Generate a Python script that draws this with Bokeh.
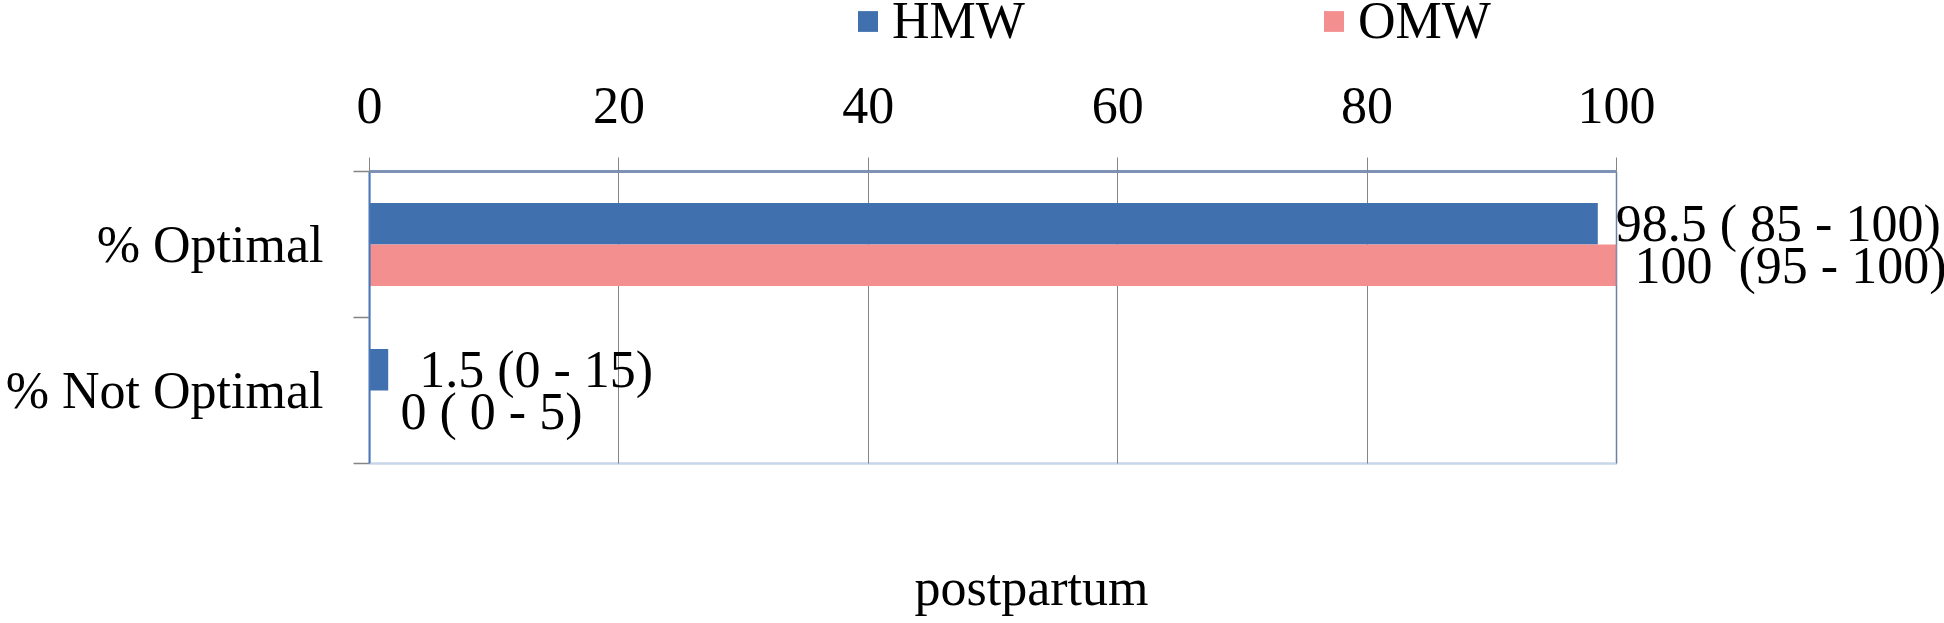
from bokeh.plotting import figure
from bokeh.layouts import column
from bokeh.models import (ColumnDataSource, Range1d, FixedTicker, LabelSet, Legend,
                          LegendItem, Label, BoxAnnotation)
from bokeh.transform import dodge
from bokeh.embed import file_html
from bokeh.resources import INLINE

NB = "\u00a0"

# ---- data ----
categories = ["% Optimal", "% Not Optimal"]
series_names = ["HMW", "OMW"]
hmw_values = [98.5, 1.5]
omw_values = [100, 0]
hmw_labels = ["98.5 ( 85 - 100)", NB + "1.5 (0 - 15)"]
omw_labels = ["100" + NB + " (95 - 100)", NB + "0 ( 0 - 5)"]
x_ticks = [0, 20, 40, 60, 80, 100]
x_title = "postpartum"

# ---- style / layout ----
FONT = "Liberation Serif"
FS = "52px"
BLUE = "#4170ae"
PINK = "#f48f8f"
GRID = "#858585"
BORDER = "#4a76b8"

W, H = 1944, 623
LEG_H = 50                      # strip holding the legend
LEFT, TOP, BOX_RIGHT, BOX_BOTTOM = 369, 171, 1616, 463   # page pixels of the plot box
TITLE_Y = 587                   # page pixel row used to place the axis title
n_cat = len(categories)
top_main = TOP - LEG_H
H_main = H - LEG_H
px_per_cat = (BOX_BOTTOM - TOP) / n_cat
# the main frame runs to the right and bottom page edges; the plot box is drawn inside it
x_end = x_ticks[-1] * (W - LEFT) / (BOX_RIGHT - LEFT)
y_end = n_cat * (H - TOP) / (BOX_BOTTOM - TOP)

ypos = [i + 0.5 for i in range(n_cat)]
src = ColumnDataSource(dict(y=ypos, cat=categories, hmw=hmw_values, omw=omw_values,
                            hmw_lab=hmw_labels, omw_lab=omw_labels))

# ---------------- main chart ----------------
p = figure(width=W, height=H_main, output_backend="svg", toolbar_location=None,
           x_range=Range1d(0, x_end), y_range=Range1d(y_end, 0),
           x_axis_location="above",
           min_border_left=LEFT, min_border_right=0, min_border_top=top_main,
           min_border_bottom=0)

bw = 0.285
off = bw / 2
bar_kw = dict(left=0, height=bw, source=src, line_color=None)
p.hbar(y=dodge("y", -off, range=p.y_range), right="hmw", fill_color=BLUE, **bar_kw)
p.hbar(y=dodge("y", off, range=p.y_range), right="omw", fill_color=PINK, **bar_kw)

lab_kw = dict(text_font=FONT, text_font_size=FS, text_baseline="middle",
              text_align="left", x_offset=18, source=src, text_color="black")
p.add_layout(LabelSet(x="hmw", y=dodge("y", -off, range=p.y_range), text="hmw_lab", **lab_kw))
p.add_layout(LabelSet(x="omw", y=dodge("y", off, range=p.y_range), text="omw_lab", **lab_kw))

# plot box 0..100 x all categories
p.add_layout(BoxAnnotation(left=x_ticks[0], right=x_ticks[-1], top=0, bottom=n_cat,
                           fill_alpha=0, line_color=BORDER, line_width=2.5))

# x axis (top)
xa = p.xaxis[0]
xa.ticker = FixedTicker(ticks=x_ticks)
xa.bounds = (x_ticks[0], x_ticks[-1])
xa.major_label_text_font = FONT
xa.major_label_text_font_size = FS
xa.major_label_text_color = "black"
xa.major_tick_out = 14
xa.major_tick_in = 0
xa.major_tick_line_color = GRID
xa.minor_tick_line_color = None
xa.axis_line_color = "#7d92b4"
xa.axis_line_width = 3
xa.major_label_standoff = 35
xa.level = "overlay"

# y axis (left): ticks at category boundaries, labels at centres
ya = p.yaxis[0]
ya.ticker = FixedTicker(ticks=ypos, minor_ticks=list(range(n_cat + 1)))
ya.bounds = (0, n_cat)
ya.major_label_overrides = {v: c for v, c in zip(ypos, categories)}
ya.major_label_text_font = FONT
ya.major_label_text_font_size = FS
ya.major_label_text_color = "black"
ya.major_tick_line_color = None
ya.major_tick_out = 0
ya.major_tick_in = 0
ya.minor_tick_out = 16
ya.minor_tick_in = 0
ya.minor_tick_line_color = GRID
ya.minor_tick_line_width = 1.5
ya.axis_line_color = BORDER
ya.axis_line_width = 2
ya.major_label_standoff = 30

p.xgrid.ticker = FixedTicker(ticks=x_ticks)
p.xgrid.cross_bounds = (0, n_cat)
p.xgrid.grid_line_color = GRID
p.xgrid.grid_line_width = 1
p.ygrid.grid_line_color = None

p.outline_line_color = None
p.background_fill_color = "white"
p.border_fill_color = "white"

# axis title, placed in the frame below the plot box
title_y = n_cat + (TITLE_Y - BOX_BOTTOM) / px_per_cat
p.add_layout(Label(x=662, y=title_y, x_units="screen", y_units="data", text=x_title,
                   text_font=FONT, text_font_size=FS, text_align="center",
                   text_baseline="alphabetic", text_color="black"))

# ---------------- legend strip ----------------
lg = figure(width=W, height=LEG_H, output_backend="svg", toolbar_location=None,
            x_range=Range1d(0, 1), y_range=Range1d(0, 1),
            x_axis_location=None, y_axis_location=None, min_border=0)
lg.outline_line_color = None
lg.grid.grid_line_color = None
k1 = lg.hbar(y=ypos, right=hmw_values, left=0, height=bw, fill_color=BLUE, line_color=None,
             visible=False)
k2 = lg.hbar(y=ypos, right=omw_values, left=0, height=bw, fill_color=PINK, line_color=None,
             visible=False)
legend = Legend(items=[LegendItem(label=series_names[0], renderers=[k1]),
                       LegendItem(label=series_names[1], renderers=[k2])],
                orientation="horizontal", location=(855 - LEFT, 0),
                label_text_font=FONT, label_text_font_size=FS, label_text_color="black",
                glyph_width=25, glyph_height=26, label_standoff=12, spacing=296,
                padding=0, margin=0, border_line_color=None, background_fill_alpha=0)
lg.add_layout(legend, "center")

page = column(lg, p, spacing=0)
open("out.html", "w").write(file_html(page, INLINE))
